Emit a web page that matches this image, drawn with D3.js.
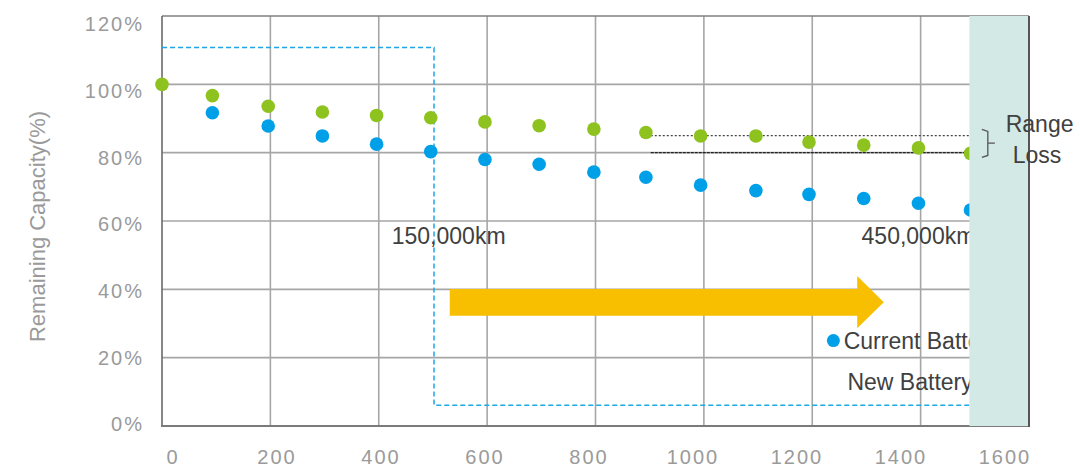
<!DOCTYPE html>
<html>
<head>
<meta charset="utf-8">
<script src="https://cdn.jsdelivr.net/npm/d3@7"></script>
<style>
  html, body { margin: 0; padding: 0; background: #fff; }
  svg { display: block; font-family: "Liberation Sans", Arial, sans-serif; }
</style>
</head>
<body>
<svg id="chart" width="1080" height="468"></svg>
<script>
// Charge cycles (x) and remaining capacity in percent (y)
const cycles         = [0, 93, 196, 296, 396, 496, 596, 696, 797, 893, 994, 1096, 1194, 1295, 1396, 1492];
const newBattery     = [100, 96.7, 93.6, 91.9, 90.9, 90.2, 89.0, 87.9, 86.9, 85.9, 84.9, 84.9, 83.1, 82.2, 81.4, 79.8];
const currentBattery = [null, 91.7, 87.8, 84.9, 82.5, 80.3, 78.0, 76.6, 74.3, 72.8, 70.5, 68.9, 67.8, 66.6, 65.2, 63.2];

const xTicks = [0, 200, 400, 600, 800, 1000, 1200, 1400, 1600];
const yTicks = [0, 20, 40, 60, 80, 100, 120];
const xTickLabels = ["0", "200", "400", "600", "800", "1000", "1200", "1400", "1600"];
const yTickLabels = ["0%", "20%", "40%", "60%", "80%", "100%", "120%"];

// Annotations, expressed in data units (cycles, percent)
const warrantyZone   = [[0, 110.8], [502, 110.8], [502, 6.1], [1490, 6.1]];
const progressArrow  = [[531, 40.1], [1283, 40.1], [1283, 43.9], [1332, 36.2], [1283, 28.6], [1283, 32.3], [531, 32.3]];
const rangeLossLevels = [85, 80];
const rangeLossFrom  = 902;
const shadedFrom     = 1490;
const bracket        = { x0: 1513, x1: 1524, x2: 1537, top: 86.8, mid: 82.8, bottom: 78.6 };
const notes = [
  { text: "150,000km", x: 424, y: 53.4 },
  { text: "450,000km", x: 1291, y: 53.4 }
];
const legendItems = [
  { text: "Current Battery", x: 1258, y: 22.5, dot: { x: 1239, y: 25.0, color: "#00a0e9" } },
  { text: "New Battery", x: 1265, y: 10.5, dot: null }
];
const sideNotes = [
  { text: "Range", x: 1557, y: 86.1 },
  { text: "Loss", x: 1570, y: 76.9 }
];

const plot = { left: 162, right: 1029, top: 16, bottom: 426 };

const svg = d3.select("#chart");
const x = d3.scaleLinear().domain([0, 1600]).range([plot.left, plot.right]);
const y = d3.scaleLinear().domain([0, 120]).range([plot.bottom, plot.top]);
// tick labels sit on their own slightly narrower spacing
const xLabel = d3.scaleLinear().domain([0, 1600]).range([172, 1004]);
const yLabel = d3.scaleLinear().domain([0, 120]).range([424, 24]);

const gridColor = "#a6a6a6";

// gridlines
svg.append("g").selectAll("line").data(xTicks.filter(d => d > 0 && d < 1600)).join("line")
  .attr("x1", d => x(d)).attr("x2", d => x(d))
  .attr("y1", y(120)).attr("y2", y(0))
  .attr("stroke", gridColor).attr("stroke-width", 1.6);
svg.append("g").selectAll("line").data(yTicks.filter(d => d > 0 && d < 120)).join("line")
  .attr("x1", x(0)).attr("x2", x(1600))
  .attr("y1", d => y(d)).attr("y2", d => y(d))
  .attr("stroke", gridColor).attr("stroke-width", 1.6);

// frame
svg.append("line").attr("x1", x(0)).attr("x2", x(1600)).attr("y1", y(120)).attr("y2", y(120))
  .attr("stroke", "#7f7f7f").attr("stroke-width", 1.6);
svg.append("line").attr("x1", x(0)).attr("x2", x(0)).attr("y1", y(120)).attr("y2", y(0))
  .attr("stroke", "#6a6a6a").attr("stroke-width", 1.6);
svg.append("line").attr("x1", x(0) - 1).attr("x2", x(1600)).attr("y1", y(0)).attr("y2", y(0))
  .attr("stroke", "#7a7a7a").attr("stroke-width", 2);

// tick labels
svg.append("g").selectAll("text").data(xTicks).join("text")
  .attr("x", d => xLabel(d) + 1).attr("y", 464)
  .attr("text-anchor", "middle")
  .attr("font-size", 20).attr("letter-spacing", 2).attr("fill", "#9a9a9a")
  .text((d, i) => xTickLabels[i]);
svg.append("g").selectAll("text").data(yTicks).join("text")
  .attr("x", 144).attr("y", d => yLabel(d)).attr("dy", "0.36em")
  .attr("text-anchor", "end")
  .attr("font-size", 20).attr("letter-spacing", 2).attr("fill", "#9a9a9a")
  .text((d, i) => yTickLabels[i]);

// axis title
svg.append("text")
  .attr("transform", `translate(45,${(110 + 343) / 2}) rotate(-90)`)
  .attr("text-anchor", "middle")
  .attr("font-size", 22).attr("fill", "#9a9a9a")
  .text("Remaining Capacity(%)");

// dashed zone outline
svg.append("path")
  .attr("d", d3.line().x(d => x(d[0])).y(d => y(d[1]))(warrantyZone))
  .attr("fill", "none").attr("stroke", "#1ea7e4").attr("stroke-width", 1.5)
  .attr("stroke-dasharray", "5,3");

// range-loss reference lines
svg.append("line")
  .attr("x1", x(rangeLossFrom)).attr("x2", x(shadedFrom))
  .attr("y1", y(rangeLossLevels[0])).attr("y2", y(rangeLossLevels[0]))
  .attr("stroke", "#444").attr("stroke-width", 1.3).attr("stroke-dasharray", "2,2");
svg.append("line")
  .attr("x1", x(rangeLossFrom)).attr("x2", x(shadedFrom))
  .attr("y1", y(rangeLossLevels[1])).attr("y2", y(rangeLossLevels[1]))
  .attr("stroke", "#222").attr("stroke-width", 1.3).attr("stroke-dasharray", "3,1");

// series points
const rows = cycles.map((c, i) => ({ c, n: newBattery[i], b: currentBattery[i] }));
svg.append("g").selectAll("circle").data(rows.filter(d => d.b != null)).join("circle")
  .attr("cx", d => x(d.c)).attr("cy", d => y(d.b)).attr("r", 6.8)
  .attr("fill", "#00a0e9");
svg.append("g").selectAll("circle").data(rows).join("circle")
  .attr("cx", d => x(d.c)).attr("cy", d => y(d.n)).attr("r", 6.8)
  .attr("fill", "#8dc21f");

// big arrow
svg.append("path")
  .attr("d", d3.line().x(d => x(d[0])).y(d => y(d[1]))(progressArrow) + "Z")
  .attr("fill", "#f8bf00");

// mileage notes
svg.append("g").selectAll("text").data(notes).join("text")
  .attr("x", d => x(d.x)).attr("y", d => y(d.y))
  .attr("font-size", 23).attr("fill", "#404040")
  .text(d => d.text);

// legend
const lg = svg.append("g");
lg.selectAll("circle").data(legendItems.filter(d => d.dot)).join("circle")
  .attr("cx", d => x(d.dot.x)).attr("cy", d => y(d.dot.y)).attr("r", 6.5)
  .attr("fill", d => d.dot.color);
lg.selectAll("text").data(legendItems).join("text")
  .attr("x", d => x(d.x)).attr("y", d => y(d.y))
  .attr("font-size", 23).attr("fill", "#404040")
  .text(d => d.text);

// shaded region beyond the last point
svg.append("rect")
  .attr("x", x(shadedFrom)).attr("y", y(120))
  .attr("width", x(1600) - x(shadedFrom)).attr("height", y(0) - y(120))
  .attr("fill", "#d2e9e6");
svg.append("line").attr("x1", x(1600)).attr("x2", x(1600)).attr("y1", y(120)).attr("y2", y(0) + 1)
  .attr("stroke", "#555").attr("stroke-width", 2);

// bracket
const b = bracket;
svg.append("path")
  .attr("d", `M${x(b.x0)},${y(b.top)} L${x(b.x1)},${y(b.top) + 2} L${x(b.x1)},${y(b.bottom) - 2} L${x(b.x0)},${y(b.bottom)}` +
             ` M${x(b.x1)},${y(b.mid)} L${x(b.x2)},${y(b.mid)}`)
  .attr("fill", "none").attr("stroke", "#555").attr("stroke-width", 1.3);

svg.append("g").selectAll("text").data(sideNotes).join("text")
  .attr("x", d => x(d.x)).attr("y", d => y(d.y))
  .attr("font-size", 23).attr("fill", "#404040")
  .text(d => d.text);
</script>
</body>
</html>
